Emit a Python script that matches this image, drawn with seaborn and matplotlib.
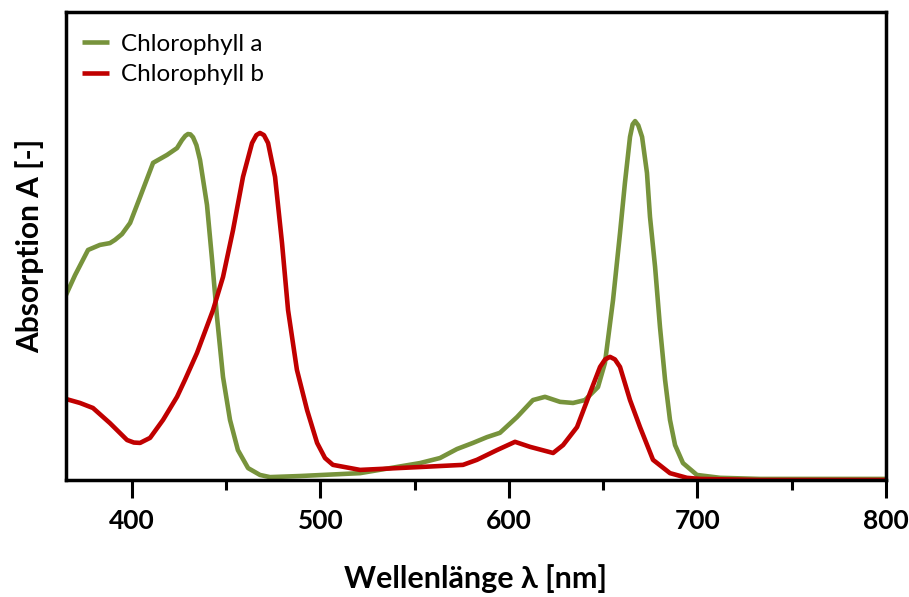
import matplotlib
matplotlib.use("Agg")
import matplotlib.pyplot as plt
import seaborn as sns
import pandas as pd
import numpy as np
from matplotlib.ticker import MultipleLocator
from matplotlib.lines import Line2D

# Chlorophyll a
wl_a = [365.0, 369.8, 376.7, 383.0, 388.3, 391.0, 394.7, 399.0, 404.3, 411.2,
        418.6, 423.9, 426.5, 428.3, 429.7, 431.0, 432.4, 434.2, 436.1, 439.8, 442.5, 445.1, 448.3,
        452.0, 456.2, 461.6, 467.9, 473.2, 489.1, 521.0, 552.8, 563.4, 572.4,
        580.9, 588.3, 595.2, 604.3, 612.7, 619.1, 627.1, 634.0, 640.3, 647.2,
        650.9, 655.2, 658.9, 661.5, 664.2, 665.6, 666.9, 668.6, 670.6, 673.2, 674.8, 677.5,
        680.1, 682.8, 685.4, 688.1, 692.3, 699.7, 712.0, 733.2, 800.0]
abs_a = [0.514, 0.569, 0.639, 0.653, 0.658, 0.667, 0.683, 0.714, 0.786, 0.881,
         0.903, 0.922, 0.944, 0.956, 0.961, 0.960, 0.952, 0.930, 0.889, 0.764, 0.611, 0.453, 0.286,
         0.167, 0.083, 0.033, 0.014, 0.008, 0.011, 0.019, 0.047, 0.061, 0.086,
         0.103, 0.119, 0.131, 0.175, 0.222, 0.231, 0.217, 0.214, 0.222, 0.258,
         0.325, 0.500, 0.686, 0.825, 0.953, 0.988, 0.997, 0.985, 0.953, 0.853, 0.731, 0.592,
         0.425, 0.278, 0.167, 0.097, 0.047, 0.014, 0.006, 0.003, 0.003]

# Chlorophyll b
wl_b = [365.0, 372.4, 379.3, 388.3, 397.4, 401.0, 404.3, 409.6, 416.5, 423.9, 428.1,
        434.5, 443.0, 448.3, 453.6, 458.9, 463.7, 466.0, 467.9, 470.0, 472.2, 475.9, 479.6,
        482.8, 487.5, 492.9, 498.2, 502.4, 506.6, 521.0, 552.8, 575.6, 583.0,
        593.6, 603.2, 611.2, 623.4, 628.7, 636.1, 643.0, 648.3, 651.0, 653.6, 656.2, 658.9,
        664.2, 669.5, 676.4, 685.4, 694.4, 701.3, 733.2, 800.0]
abs_b = [0.225, 0.214, 0.200, 0.158, 0.111, 0.104, 0.103, 0.117, 0.167, 0.231, 0.278,
         0.353, 0.472, 0.564, 0.694, 0.842, 0.936, 0.958, 0.964, 0.958, 0.936, 0.842, 0.658,
         0.472, 0.306, 0.194, 0.103, 0.061, 0.042, 0.028, 0.036, 0.042, 0.056,
         0.083, 0.106, 0.092, 0.075, 0.097, 0.147, 0.242, 0.314, 0.335, 0.342, 0.335, 0.314,
         0.222, 0.147, 0.056, 0.019, 0.006, 0.003, 0.000, 0.000]

series_names = ["Chlorophyll a", "Chlorophyll b"]
colors = {"Chlorophyll a": "#77933C", "Chlorophyll b": "#C00000"}
x_ticks = [400, 500, 600, 700, 800]

df = pd.concat([
    pd.DataFrame({"wl": wl_a, "A": abs_a, "Serie": series_names[0]}),
    pd.DataFrame({"wl": wl_b, "A": abs_b, "Serie": series_names[1]}),
])

sns.set_style("white")
plt.rcParams["font.family"] = ["Lato", "DejaVu Sans"]
plt.rcParams["text.color"] = "black"
plt.rcParams["axes.labelcolor"] = "black"
plt.rcParams["xtick.color"] = "black"
plt.rcParams["xtick.labelcolor"] = "black"
plt.rcParams["lines.solid_joinstyle"] = "round"
plt.rcParams["lines.solid_capstyle"] = "round"

fig = plt.figure(figsize=(9.09, 5.97), dpi=100)
ax = fig.add_axes([0.0726, 0.196, 0.9021, 0.7839])

sns.lineplot(data=df, x="wl", y="A", hue="Serie", palette=colors,
             linewidth=3.3, sort=False, estimator=None, ax=ax, legend=False)

ax.set_xlim(365, 800)
ax.set_ylim(0, 1.3)
ax.set_xticks(x_ticks)
ax.set_xticklabels([str(t) for t in x_ticks], fontsize=19, fontweight="bold")
ax.xaxis.set_minor_locator(MultipleLocator(50))
ax.set_yticks([])
ax.tick_params(axis="x", which="major", direction="out", length=13, width=2.2,
               color="black", bottom=True, pad=8)
ax.tick_params(axis="x", which="minor", direction="out", length=7, width=2.2,
               color="black", bottom=True)
for s in ax.spines.values():
    s.set_linewidth(2.5)
    s.set_color("black")
    s.set_visible(True)

ax.set_xlabel("Wellenlänge λ [nm]", fontsize=22, fontweight="bold", labelpad=22)
ax.set_ylabel("Absorption A [-]", fontsize=21.5, fontweight="bold", labelpad=16)

handles = [Line2D([0], [0], color=colors[n], lw=3.3, solid_capstyle="butt") for n in series_names]
ax.legend(handles, series_names, loc="upper left", bbox_to_anchor=(-0.001, 0.99),
          frameon=False, fontsize=17.5, handlelength=1.1, handletextpad=0.5,
          labelspacing=0.4, borderaxespad=0.3)

fig.savefig("out.png", dpi=100)
